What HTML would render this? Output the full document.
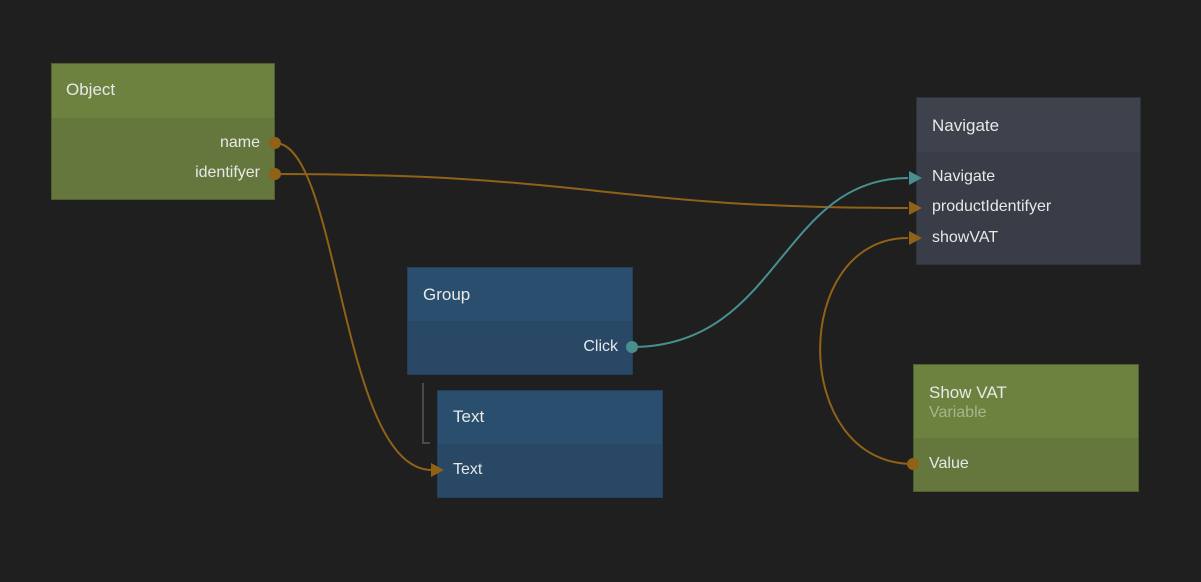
<!DOCTYPE html>
<html><head><style>
body{margin:0;width:1201px;height:582px;background:#1f1f1f;position:relative;overflow:hidden;font-family:"Liberation Sans",sans-serif;color:#e8e8e8;font-size:16px}
.n{position:absolute;box-sizing:border-box}
.h{position:absolute;left:0;right:0;top:0}
.b{position:absolute;left:0;right:0;bottom:0}
.t{position:absolute;white-space:nowrap;font-size:17px}
.l{position:absolute;white-space:nowrap;font-size:16px}
</style></head><body>
<!-- Object -->
<div class="n" style="left:51px;top:63px;width:224px;height:137px;border:1px solid #4f5f2e">
 <div class="h" style="height:54px;background:#6e8240"></div>
 <div class="b" style="top:54px;background:#65773c"></div>
 <div class="t" style="left:14px;top:16px">Object</div>
 <div class="l" style="right:14px;top:70px">name</div>
 <div class="l" style="right:14px;top:100px">identifyer</div>
</div>
<!-- Navigate -->
<div class="n" style="left:916px;top:97px;width:225px;height:168px;border:1px solid #2f323a">
 <div class="h" style="height:54px;background:#3e424d"></div>
 <div class="b" style="top:54px;background:#393d48"></div>
 <div class="t" style="left:15px;top:18px">Navigate</div>
 <div class="l" style="left:15px;top:70px">Navigate</div>
 <div class="l" style="left:15px;top:100px">productIdentifyer</div>
 <div class="l" style="left:15px;top:131px">showVAT</div>
</div>
<!-- Group -->
<div class="n" style="left:407px;top:267px;width:226px;height:108px;border:1px solid #22405a">
 <div class="h" style="height:53px;background:#2a4f6e"></div>
 <div class="b" style="top:53px;background:#284866"></div>
 <div class="t" style="left:15px;top:17px">Group</div>
 <div class="l" style="right:14px;top:70px">Click</div>
</div>
<!-- Text -->
<div class="n" style="left:437px;top:390px;width:226px;height:108px;border:1px solid #22405a">
 <div class="h" style="height:53px;background:#2a4f6e"></div>
 <div class="b" style="top:53px;background:#284866"></div>
 <div class="t" style="left:15px;top:16px">Text</div>
 <div class="l" style="left:15px;top:70px">Text</div>
</div>
<!-- Show VAT -->
<div class="n" style="left:913px;top:364px;width:226px;height:128px;border:1px solid #4f5f2e">
 <div class="h" style="height:73px;background:#6e8240"></div>
 <div class="b" style="top:73px;background:#65773c"></div>
 <div class="t" style="left:15px;top:18px">Show VAT</div>
 <div class="l" style="left:15px;top:39px;color:#a8b48a">Variable</div>
 <div class="l" style="left:15px;top:90px">Value</div>
</div>
<svg width="1201" height="582" style="position:absolute;left:0;top:0" fill="none">
 <path d="M423,383 V443 H430" stroke="#4a4a4a" stroke-width="2"/>
 <g stroke="#8f6218" stroke-width="2">
  <path d="M275,143 C340,143 340,470 432,470"/>
  <path d="M275,174 C600,174 600,208 908,208"/>
  <path d="M913,464 C790,464 790,238 908,238"/>
 </g>
 <path d="M632,347 C780,347 780,178 908,178" stroke="#4a8f8f" stroke-width="2"/>
 <g fill="#8f6218">
  <circle cx="275" cy="143" r="6"/><circle cx="275" cy="174" r="6"/><circle cx="913" cy="464" r="6"/>
  <path d="M431,463 L444,470 L431,477Z"/>
  <path d="M909,201 L922,208 L909,215Z"/>
  <path d="M909,231 L922,238 L909,245Z"/>
 </g>
 <g fill="#4a8f8f">
  <circle cx="632" cy="347" r="6"/>
  <path d="M909,171 L922,178 L909,185Z"/>
 </g>
</svg>
</body></html>
